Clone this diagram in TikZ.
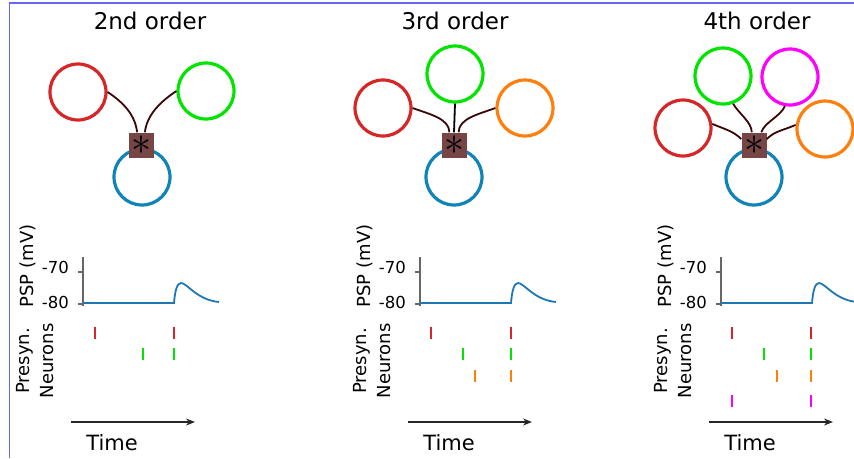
\documentclass[tikz,border=0pt]{standalone}
\usepackage{fontspec}
\setmainfont{DejaVu Sans}
\usetikzlibrary{arrows.meta}
\definecolor{nred}{HTML}{D62728}
\definecolor{ngreen}{RGB}{0,228,0}
\definecolor{norange}{HTML}{FF7F0E}
\definecolor{nmagenta}{HTML}{FF00FF}
\definecolor{nblue}{RGB}{16,132,182}
\definecolor{pspblue}{HTML}{1F77B4}
\definecolor{somabrown}{HTML}{774545}
\definecolor{synbrown}{HTML}{3B0505}
\definecolor{framecol}{RGB}{100,100,255}
\newcommand{\somastar}{\scalebox{4}{$\ast$}}
\tikzset{neuron/.style={circle, draw, line width=3.2pt, minimum size=56pt, inner sep=0pt},
  soma/.style={rectangle, fill=somabrown, minimum size=25pt, inner sep=0pt},
  syn/.style={draw=synbrown, line width=1.8pt},
  psp/.style={draw=pspblue, line width=1.8pt},
  axisline/.style={draw=black!60, line width=1.2pt},
  spike/.style={line width=1.6pt},
  timearrow/.style={draw=black!85, line width=1.3pt, -{Stealth[length=9pt,width=7pt]}},
  title/.style={font=\fontsize{23}{26}\selectfont, inner sep=0pt, anchor=base},
  ticklabel/.style={font=\fontsize{16.5}{18}\selectfont, inner sep=0pt},
  ylabel/.style={font=\fontsize{18}{20}\selectfont, inner sep=0pt, rotate=90},
  timelabel/.style={font=\fontsize{21}{24}\selectfont, inner sep=0pt}}

\begin{document}
\begin{tikzpicture}[x=1pt, y=-1pt]
  \useasboundingbox (0,0) rectangle (854,458);
  \draw[framecol, line width=1.5pt] (9.5,458) -- (9.5,3) -- (854,3);

  % titles
  \node[title] (t2) at (150,29) {2nd order};
  \node[title] (t3) at (455,29) {3rd order};
  \node[title] (t4) at (757,29) {4th order};

  % 2nd order
  \node[neuron, draw=nred]   (r1) at ( 78, 92) {};
  \node[neuron, draw=ngreen] (g1) at (206, 91) {};
  \node[neuron, draw=nblue]  (b1) at (142,177) {};
  \node[soma] (s1) at (141,145) {\somastar};
  \draw[syn]
   (r1.east) .. controls +(15,10) and +(-2,-18) .. (s1.107);
  \draw[syn]
   (g1.west) .. controls +(-15,10) and +(2,-18) .. (s1.73);

  % 3rd order
  \node[neuron, draw=nred]    (r2) at (383,108) {};
  \node[neuron, draw=ngreen]  (g2) at (455, 74) {};
  \node[neuron, draw=norange] (o2) at (525,108) {};
  \node[neuron, draw=nblue]   (b2) at (454,177) {};
  \node[soma] (s2) at (454,145) {\somastar};
  \draw[syn]
   (r2.east) .. controls +(16,6) and +(0,-14) .. (s2.110);
  \draw[syn, draw=black] (g2.south) -- (s2.north);
  \draw[syn]
   (o2.west) .. controls +(-16,6) and +(0,-14) .. (s2.70);

  % 4th order
  \node[neuron, draw=nred]     (r3) at (683,128) {};
  \node[neuron, draw=ngreen]   (g3) at (723, 76) {};
  \node[neuron, draw=nmagenta] (m3) at (790, 77) {};
  \node[neuron, draw=norange]  (o3) at (825,129) {};
  \node[neuron, draw=nblue]    (b3) at (754,177) {};
  \node[soma] (s3) at (754,145) {\somastar};
  \draw[syn]
   (r3.8) .. controls +(14,6) and +(-8,-8) .. (s3.155);
  \draw[syn]
   (g3.290) .. controls +(6,10) and +(0,-10) .. (s3.100);
  \draw[syn]
   (m3.260) .. controls +(-4,10) and +(3,-10) .. (s3.60);
  \draw[syn]
   (o3.172) .. controls +(-14,6) and +(8,-8) .. (s3.25);

  % psp traces and time axes
  \foreach \p/\ax in {1/83, 2/420, 3/721}{
    \begin{scope}[xshift=\ax]
      \draw[axisline] (0,257) -- (0,306);
      \draw[axisline] (-5,272) -- (0,272);
      \draw[axisline] (-5,304) -- (0,304);
      \node[ticklabel, anchor=east] (lo\p) at (-14,302) {-80};
      \node[ticklabel, anchor=east] (hi\p) at (-14,267) {-70};
      \node[ylabel] (psp\p) at (-55,266) {PSP (mV)};
      \node[ylabel] (pre\p) at (-58,361) {Presyn.};
      \node[ylabel] (neu\p) at (-36,361) {Neurons};
      \draw[psp] (0,303) -- (91,303)
        .. controls (92,291) and (94,283) .. (98,283)
        .. controls (104,283) and (114,300) .. (136,302);
      \coordinate (ts\p) at (-12,422);
      \coordinate (te\p) at (112,422);
      \draw[timearrow] (ts\p) -- (te\p);
      \node[timelabel] (time\p) at (29,443) {Time};
    \end{scope}
  }

  % spikes
  \foreach \x/\y/\c in {95/333/nred, 174/333/nred, 143/354/ngreen, 174/354/ngreen,
      431/333/nred, 511/333/nred, 463/354/ngreen, 511/354/ngreen, 475/376/norange, 511/376/norange,
      732/333/nred, 811/333/nred, 764/354/ngreen, 811/354/ngreen, 777/376/norange, 811/376/norange,
      732/401/nmagenta, 811/401/nmagenta}
    \draw[spike, \c] (\x,\y-6) -- (\x,\y+6);
\end{tikzpicture}
\end{document}
